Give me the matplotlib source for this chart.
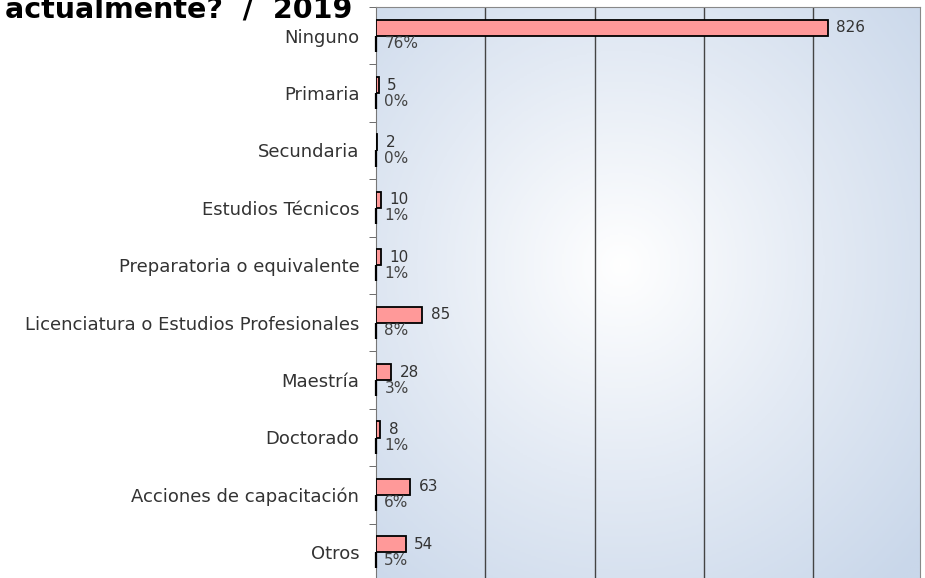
import matplotlib
matplotlib.use("Agg")
import matplotlib.pyplot as plt
import numpy as np
from matplotlib.colors import LinearSegmentedColormap

CATEGORIAS = [
    "Ninguno",
    "Primaria",
    "Secundaria",
    "Estudios Técnicos",
    "Preparatoria o equivalente",
    "Licenciatura o Estudios Profesionales",
    "Maestría",
    "Doctorado",
    "Acciones de capacitación",
    "Otros",
]
CONTEOS = [826, 5, 2, 10, 10, 85, 28, 8, 63, 54]
PORCENTAJES = [76, 0, 0, 1, 1, 8, 3, 1, 6, 5]
TITULO = "actualmente?  /  2019"

plt.rcParams["font.family"] = ["DejaVu Sans"]

W, H = 925, 578
fig = plt.figure(figsize=(W / 100, H / 100), dpi=100)
fig.patch.set_facecolor("white")

x0, x1 = 376, 920
y_top, y_bot = 7, 581
ax = fig.add_axes([x0 / W, 1 - y_bot / H, (x1 - x0) / W, (y_bot - y_top) / H])

# fondo con degradado radial
yy, xx = np.mgrid[0:1:300j, 0:1:400j]
r = np.sqrt(((xx - 0.45) / 0.75) ** 2 + ((yy - 0.45) / 0.75) ** 2)
cmap = LinearSegmentedColormap.from_list("fondo", ["#ffffff", "#e3eaf4", "#c9d7ea"])
ax.imshow(np.clip(r, 0, 1), cmap=cmap, vmin=0, vmax=1, extent=[0, 1, 0, 1],
          transform=ax.transAxes, aspect="auto", zorder=0)

y = np.arange(len(CATEGORIAS))
alto = 0.28
ax.barh(y - 0.14, CONTEOS, height=alto, color="#ff9999", edgecolor="black",
        linewidth=1.3, zorder=3)
ax.barh(y + 0.14, [p / 100 for p in PORCENTAJES], height=alto, color="#ff9999",
        edgecolor="black", linewidth=1.6, zorder=3, clip_on=False)

for i, (c, p) in enumerate(zip(CONTEOS, PORCENTAJES)):
    ax.annotate(str(c), (c, i - 0.14), xytext=(6, 0), textcoords="offset points",
                va="center", ha="left", fontsize=11, color="#333333", zorder=4)
    ax.annotate(f"{p}%", (0, i + 0.14), xytext=(6, 0), textcoords="offset points",
                va="center", ha="left", fontsize=11, color="#444444", zorder=4)

ax.set_xlim(0, 995)
ax.set_ylim(len(CATEGORIAS) - 0.5, -0.5)
ax.set_xticks([200, 400, 600, 800])
ax.xaxis.grid(True, color="#444444", linewidth=1, zorder=1)
ax.tick_params(axis="x", length=0, labelbottom=False)
ax.set_yticks(y)
ax.set_yticklabels(CATEGORIAS, fontsize=13, color="#333333")
ax.tick_params(axis="y", length=0, pad=12)
ax.set_yticks(np.arange(-0.5, len(CATEGORIAS), 1), minor=True)
ax.tick_params(axis="y", which="minor", length=5, color="#555555", direction="out")
for s in ["top", "right"]:
    ax.spines[s].set_color("#888888")
ax.spines["left"].set_color("#777777")
ax.spines["bottom"].set_visible(False)

fig.text(352 / W, 1 - 10 / H, TITULO, ha="right", va="center", fontsize=20.5,
         fontweight="bold", color="black")

fig.savefig("out.png", dpi=100)
